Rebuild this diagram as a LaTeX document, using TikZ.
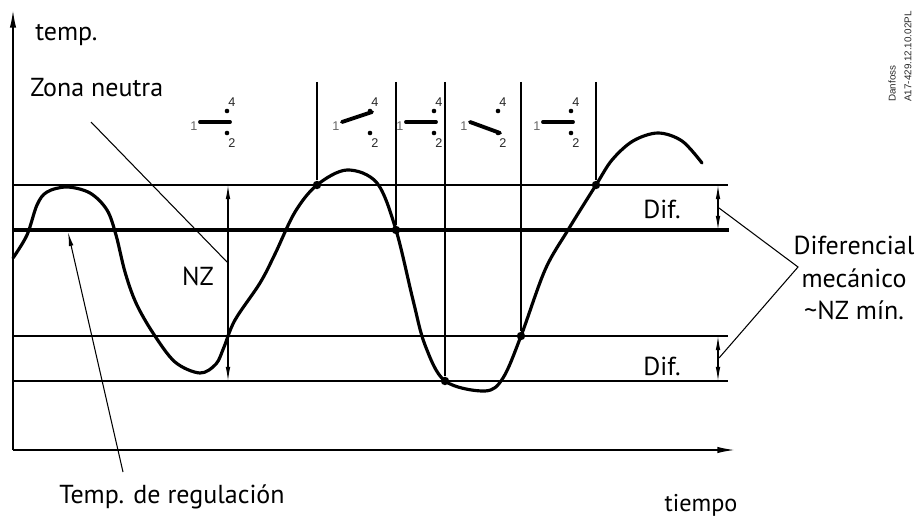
\documentclass[tikz,border=0pt]{standalone}
\usepackage{fontspec}
\setmainfont{PT Sans}
\newfontfamily\smallfont{Liberation Sans}
\usetikzlibrary{arrows.meta,positioning,calc}
\tikzset{
  thinline/.style={line width=0.7pt},
  leader/.style={line width=0.6pt},
  dimarrow/.style={line width=0.6pt,{Latex[length=8pt,width=2.6pt]}-{Latex[length=8pt,width=2.6pt]}},
  axisline/.style={line width=0.9pt,-{Latex[length=10pt,width=3.6pt]}},
  curveline/.style={line width=1.8pt,line cap=round},
  lever/.style={line width=2.2pt,line cap=round},
  crossdot/.style={circle,fill=black,inner sep=0pt,minimum size=4.8pt},
  contact/.style={circle,fill=black,inner sep=0pt,minimum size=2.6pt},
  label/.style={font=\fontsize{14.8}{17}\selectfont,inner sep=0pt},
  termnum/.style={font=\smallfont\fontsize{7.2}{8}\selectfont,inner sep=0pt,text=black!85},
  stamp/.style={font=\smallfont\fontsize{5.6}{6}\selectfont,inner sep=0pt,rotate=90,anchor=west,text=black!85}
}
\begin{document}
\begin{tikzpicture}[x=0.02cm,y=-0.02cm]
  \useasboundingbox (0,0) rectangle (923,517);

  % Axes
  \coordinate (origin) at (13,450);
  \coordinate (tempend) at (13,10);
  \coordinate (timeend) at (735,450);
  \draw[axisline] (origin) -- (tempend);
  \draw[axisline] (origin) -- (timeend);

  % Limit lines
  \coordinate (upL) at (13,185);   \coordinate (upR) at (728,185);
  \coordinate (midL) at (13,230);  \coordinate (midR) at (729,230);
  \coordinate (lowL) at (13,336);  \coordinate (lowR) at (728,336);
  \coordinate (botL) at (13,381);  \coordinate (botR) at (728,381);
  \draw[thinline] (upL) -- (upR);
  \draw[line width=2pt] (midL) -- (midR);
  \draw[thinline] (lowL) -- (lowR);
  \draw[thinline] (botL) -- (botR);

  % Switching points
  \node[crossdot] (swA) at (317,185) {};
  \node[crossdot] (swB) at (396,230) {};
  \node[crossdot] (swC) at (445,381) {};
  \node[crossdot] (swD) at (521,336) {};
  \node[crossdot] (swE) at (596,185) {};
  \foreach \sw/\xx in {swA/317,swB/396,swC/445,swD/521,swE/596}{
    \coordinate (\sw top) at (\xx,82);
    \draw[thinline] (\sw top) -- (\sw);
  }

  % Temperature curve
  \draw[curveline] plot[smooth,tension=0.55] coordinates {
    (13,258) (27,235) (37,205) (47,192) (67,187) (90,193) (107,210) (116,235)
    (125,272) (136,303) (153,333) (175,362) (200,373) (216,364) (224,347)
    (235,320) (260,283) (275,254) (295,212) (317,185) (347,170) (377,183)
    (396,230) (413,300) (425,345) (445,381) (485,391) (503,378) (521,336)
    (545,270) (568,230) (596,185) (612,160) (633,141) (658,133) (682,141) (702,163)};

  % Switch symbols
  \foreach \name/\xx/\dx/\dy/\tipx in {a/200/30/0/27,b/342/30/-10/28,c/406/30/0/28,d/470/30/11/28,e/543/30/0/28}{
    \coordinate (\name pivot) at (\xx,122);
    \draw[lever] (\name pivot) -- ++(\dx,\dy);
    \node[contact] (\name four) at (\xx+\tipx,111) {};
    \node[contact] (\name two) at (\xx+\tipx,133) {};
    \node[termnum] (\name numfour) at (\xx+\tipx+5,102) {4};
    \node[termnum] (\name numtwo) at (\xx+\tipx+5,143) {2};
    \node[termnum,text=black!60] (\name numone) at (\xx-6,126) {1};
  }

  % Dimension arrows
  \coordinate (nzT) at (228,185);  \coordinate (nzB) at (228,381);
  \coordinate (difaT) at (718,185); \coordinate (difaB) at (718,230);
  \coordinate (difbT) at (718,336); \coordinate (difbB) at (718,381);
  \draw[dimarrow] (nzT) -- (nzB);
  \draw[dimarrow] (difaT) -- (difaB);
  \draw[dimarrow] (difbT) -- (difbB);

  % Labels
  \node[label,anchor=west] (templabel) at (35,35) {temp.};
  \node[label,anchor=west] (zonelabel) at (30,88) {Zona neutra};
  \node[label] (nzlabel) at (198,276) {NZ};
  \node[label] (difalabel) at (662,209) {Dif.};
  \node[label] (difblabel) at (662,366) {Dif.};
  \node[label,align=center,font=\fontsize{14.8}{18.5}\selectfont] (diflabel) at (854,278) {Diferencial\\mecánico\\\textasciitilde NZ mín.};
  \node[label] (reglabel) at (172,497) {Temp. de regulación};
  \node[label,font=\fontsize{13.8}{15}\selectfont] (timelabel) at (701,505) {tiempo};
  \node[stamp] (stampa) at (892,102) {Danfoss};
  \node[stamp] (stampb) at (908,102) {A17-429.12.10.02PL};

  % Leader lines
  \coordinate (zoneS) at (91,122);  \coordinate (zoneE) at (228,263);
  \coordinate (regS) at (123,472);  \coordinate (regE) at (68,232);
  \coordinate (bendR) at (798,267);
  \coordinate (difaE) at (719,208); \coordinate (difbE) at (719,358);
  \draw[leader] (zoneS) -- (zoneE);
  \draw[leader,-{Latex[length=8pt,width=2.6pt]}] (regS) -- (regE);
  \draw[leader] (difaE) -- (bendR) -- (difbE);
\end{tikzpicture}
\end{document}
